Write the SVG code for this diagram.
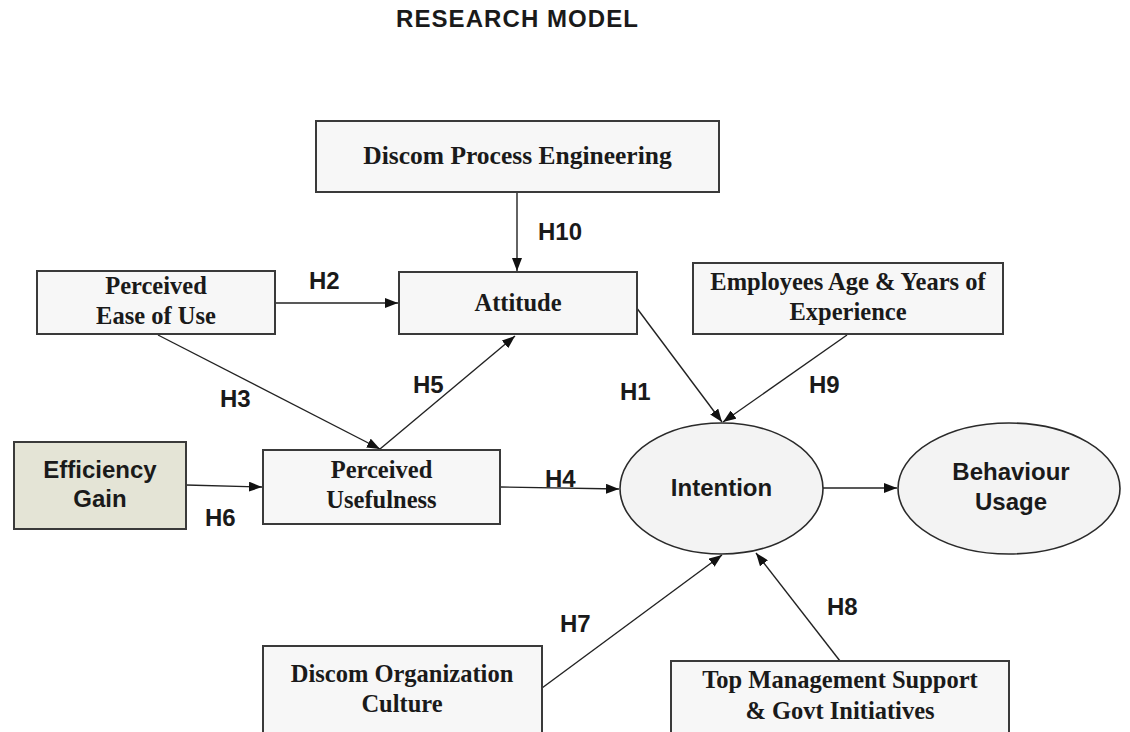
<svg xmlns="http://www.w3.org/2000/svg" width="1130" height="732" viewBox="0 0 1130 732">
<defs>
<marker id="arr" markerUnits="userSpaceOnUse" markerWidth="14" markerHeight="10" refX="13" refY="5" orient="auto">
<path d="M0,0 L13,5 L0,10 z" fill="#111"/>
</marker>
<style>
.box{fill:#f7f7f7;stroke:#3a3a3a;stroke-width:2}
.ell{fill:#f3f3f3;stroke:#2a2a2a;stroke-width:1.6}
.eg{fill:#e4e4d6;stroke:#3a3a3a;stroke-width:2}
.serif{font-family:"Liberation Serif","Times New Roman",serif;font-weight:bold;font-size:24.5px;fill:#1a1a1a;text-anchor:middle}
.sans{font-family:"Liberation Sans",Arial,sans-serif;font-weight:bold;font-size:24px;fill:#1a1a1a}
.mid{text-anchor:middle}
.con{stroke:#222;stroke-width:1.4;fill:none;marker-end:url(#arr)}
</style>
</defs>
<rect width="1130" height="732" fill="#ffffff"/>
<text x="517" y="27" class="sans mid" textLength="242" lengthAdjust="spacing">RESEARCH  MODEL</text>

<g id="connectors">
<line class="con" x1="517" y1="192" x2="517" y2="271"/>
<line class="con" x1="275" y1="303" x2="398" y2="303"/>
<line class="con" x1="158" y1="335" x2="380" y2="449"/>
<line class="con" x1="380" y1="449" x2="515" y2="336"/>
<line class="con" x1="186" y1="485" x2="262" y2="487"/>
<line class="con" x1="500" y1="487" x2="619" y2="489"/>
<line class="con" x1="636" y1="307" x2="722" y2="422"/>
<line class="con" x1="847" y1="335" x2="723" y2="422"/>
<line class="con" x1="823" y1="488" x2="897" y2="488"/>
<line class="con" x1="542" y1="688" x2="722" y2="555"/>
<line class="con" x1="840" y1="661" x2="756" y2="553"/>
</g>

<g id="labels">
<text x="538" y="240" class="sans">H10</text>
<text x="309" y="289" class="sans">H2</text>
<text x="220" y="407" class="sans">H3</text>
<text x="413" y="393" class="sans">H5</text>
<text x="205" y="526" class="sans">H6</text>
<text x="545" y="487" class="sans">H4</text>
<text x="620" y="400" class="sans">H1</text>
<text x="809" y="393" class="sans">H9</text>
<text x="560" y="632" class="sans">H7</text>
<text x="827" y="615" class="sans">H8</text>
</g>

<g id="dpe">
<rect class="box" x="316" y="121" width="403" height="71"/>
<text x="517.5" y="164" class="serif" style="font-size:25.5px">Discom Process Engineering</text>
</g>
<g id="peou">
<rect class="box" x="37" y="271" width="238" height="63"/>
<text x="156" y="294" class="serif">Perceived</text>
<text x="156" y="324" class="serif">Ease of Use</text>
</g>
<g id="attitude">
<rect class="box" x="399" y="272" width="238" height="62"/>
<text x="518" y="311" class="serif">Attitude</text>
</g>
<g id="employees">
<rect class="box" x="693" y="263" width="310" height="71"/>
<text x="848" y="290" class="serif">Employees Age &amp; Years of</text>
<text x="848" y="320" class="serif">Experience</text>
</g>
<g id="efficiency">
<rect class="eg" x="14" y="442" width="172" height="87"/>
<text x="100" y="478" class="sans mid">Efficiency</text>
<text x="100" y="507" class="sans mid">Gain</text>
</g>
<g id="pu">
<rect class="box" x="263" y="450" width="237" height="74"/>
<text x="381.5" y="478" class="serif">Perceived</text>
<text x="381.5" y="508" class="serif">Usefulness</text>
</g>
<g id="intention">
<ellipse class="ell" cx="721.5" cy="488.5" rx="101.5" ry="65.5"/>
<text x="721.5" y="496" class="sans mid">Intention</text>
</g>
<g id="behaviour">
<ellipse class="ell" cx="1009" cy="488.5" rx="111" ry="65.5"/>
<text x="1011" y="480" class="sans mid">Behaviour</text>
<text x="1011" y="510" class="sans mid">Usage</text>
</g>
<g id="doc">
<rect class="box" x="263" y="646" width="279" height="100"/>
<text x="402" y="682" class="serif">Discom Organization</text>
<text x="402" y="712" class="serif">Culture</text>
</g>
<g id="tms">
<rect class="box" x="671" y="661" width="338" height="90"/>
<text x="840" y="688" class="serif">Top Management Support</text>
<text x="840" y="719" class="serif">&amp; Govt Initiatives</text>
</g>
</svg>
